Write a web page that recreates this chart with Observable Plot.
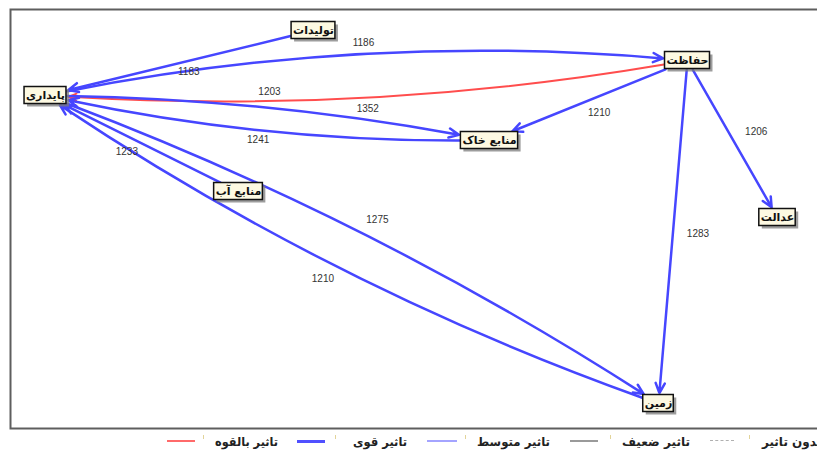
<!DOCTYPE html>
<html><head><meta charset="utf-8">
<script src="https://cdn.jsdelivr.net/npm/d3@7"></script>
<script src="https://cdn.jsdelivr.net/npm/@observablehq/plot@0.6"></script>
<style>
html,body{margin:0;padding:0;background:#fff;}
body{width:817px;height:451px;overflow:hidden;position:relative;font-family:"DejaVu Sans",sans-serif;}
#chart{position:absolute;left:0;top:0;}
#legend{position:absolute;left:0;top:431px;width:817px;height:20px;overflow:hidden;}
.lt{position:absolute;top:4px;font:bold 12px "DejaVu Sans";line-height:14px;color:#222;white-space:nowrap;direction:rtl;transform-origin:0 50%;}
.ll{position:absolute;top:9px;height:0;}
.ls{position:absolute;top:4px;width:1px;height:4px;background:#e2d49a;}
</style></head><body>
<div id="chart"></div><div id="legend"></div>
<script>
// ---------- data ----------
const nodeNames = ["پایداری", "تولیدات", "منابع آب", "حفاظت", "منابع خاک", "عدالت", "زمین"];
const nodeX = [35, 303, 228, 677, 479, 767, 648];   // layout coordinates
const nodeY = [86, 21, 182, 51, 131, 208, 394];

const edgeFrom   = ["تولیدات", "پایداری", "حفاظت", "پایداری", "منابع خاک", "حفاظت", "حفاظت", "حفاظت", "پایداری", "زمین", "منابع آب"];
const edgeTo     = ["پایداری", "حفاظت", "پایداری", "منابع خاک", "پایداری", "منابع خاک", "عدالت", "زمین", "زمین", "پایداری", "پایداری"];
const edgeWeight = [1183, 1186, 1352, 1203, 1241, 1210, 1206, 1283, 1275, 1210, 1233];
const edgeKind   = ["تاثیر قوی", "تاثیر قوی", "تاثیر بالقوه", "تاثیر قوی", "تاثیر قوی", "تاثیر قوی", "تاثیر قوی", "تاثیر قوی", "تاثیر قوی", "تاثیر قوی", "تاثیر قوی"];

const legendKinds = ["تاثیر بالقوه", "تاثیر قوی", "تاثیر متوسط", "تاثیر ضعیف", "بدون تاثیر"];

// ---------- layout / style ----------
const edgeBend  = [0, 8, 6.5, 4.7, 6, 0, 0, 0, 6, 7, 0];
const labelT    = [0.47, 0.5, 0.5, 0.51, 0.51, 0.47, 0.54, 0.5, 0.51, 0.52, 0.56];
const labelGap  = [11, 11, 11, 16, 10, 15, 24, 25, 19, 17, 14];
const kindStyle = {
  "تاثیر بالقوه": {stroke: "#ff4d4d", width: 2, css: "2px solid #ff6a6a"},
  "تاثیر قوی":    {stroke: "#4646ff", width: 2.5, css: "3px solid #5050ff"},
  "تاثیر متوسط":  {stroke: "#9a9aff", width: 1.5, css: "2px solid #a4a4ff"},
  "تاثیر ضعیف":   {stroke: "#999999", width: 1.5, css: "2px solid #9a9a9a"},
  "بدون تاثیر":   {stroke: "#bbbbbb", width: 1, css: "1px dashed #b0b0b0"}
};
const legendLineLeft = [167, 297, 427, 570, 710];
const legendLineW    = [28, 28, 30, 28, 24];
const legendSep      = [203, 335, 465, 610, 749];
const legendTextLeft = [215, 353, 477, 622, 762];
const legendTextW    = [63, 54, 73, 68, null];

// ---------- build ----------
const ctx = document.createElement("canvas").getContext("2d");
ctx.font = "bold 11px 'DejaVu Sans'";
const nodes = nodeNames.map((name, i) => {
  const w = ctx.measureText(name).width;
  return {name, x: nodeX[i], y: nodeY[i], hw: w / 2 + 1.5, hh: 8.5};
});
const byName = new Map(nodes.map(n => [n.name, n]));

function boxPoint(n, ang, gap) {
  const c = Math.cos(ang), s = Math.sin(ang);
  const tx = Math.abs(c) > 1e-9 ? n.hw / Math.abs(c) : Infinity;
  const ty = Math.abs(s) > 1e-9 ? n.hh / Math.abs(s) : Infinity;
  const t = Math.min(tx, ty) + gap;
  return [n.x + c * t, n.y + s * t];
}

const edges = edgeFrom.map((f, i) => {
  const a = byName.get(f), b = byName.get(edgeTo[i]);
  const chord = Math.atan2(b.y - a.y, b.x - a.x);
  const th = edgeBend[i] * Math.PI / 180;
  const [x1, y1] = boxPoint(a, chord - th, 1);
  const [x2, y2] = boxPoint(b, chord + th + Math.PI, 2);
  const L = Math.hypot(x2 - x1, y2 - y1);
  const ux = (x2 - x1) / L, uy = (y2 - y1) / L;
  const nx = uy, ny = -ux;
  // point on the arc at chord fraction t
  const t = labelT[i];
  let off = 0;
  if (th > 0) {
    const R = L / (2 * Math.sin(th)), s = R * (1 - Math.cos(th)), u = (t - 0.5) * L;
    off = Math.sqrt(R * R - u * u) - (R - s);
  }
  const px = x1 + t * (x2 - x1) + nx * off, py = y1 + t * (y2 - y1) + ny * off;
  return {x1, y1, x2, y2, bend: edgeBend[i], kind: edgeKind[i], value: edgeWeight[i],
          lx: px + nx * labelGap[i], ly: py + ny * labelGap[i]};
});

const arrowMarks = edges.map(e => Plot.arrow([e], {
  x1: "x1", y1: "y1", x2: "x2", y2: "y2",
  bend: e.bend, stroke: kindStyle[e.kind].stroke, strokeWidth: kindStyle[e.kind].width,
  headLength: 6.5, headAngle: 50
}));

const chart = Plot.plot({
  width: 817, height: 431,
  marginLeft: 10, marginRight: -5, marginTop: 9, marginBottom: 3,
  x: {domain: [0, 812], axis: null},
  y: {domain: [0, 419], axis: null, reverse: true},
  style: {background: "white", overflow: "visible"},
  marks: [
    Plot.frame({stroke: "#5e5e5e", strokeWidth: 2}),
    ...arrowMarks,
    Plot.text(edges, {x: "lx", y: "ly", text: d => String(d.value), fontSize: 10,
      fontFamily: "'Liberation Sans', Arial, sans-serif", fill: "#333"}),
    Plot.rect(nodes, {x1: d => d.x - d.hw, x2: d => d.x + d.hw, y1: d => d.y - d.hh, y2: d => d.y + d.hh,
      dx: 3, dy: 3, fill: "#7c7c7c", fillOpacity: 0.75}),
    Plot.rect(nodes, {x1: d => d.x - d.hw, x2: d => d.x + d.hw, y1: d => d.y - d.hh, y2: d => d.y + d.hh,
      fill: "#fdf9e2", stroke: "#111", strokeWidth: 1.5}),
    Plot.text(nodes, {x: "x", y: "y", text: "name", fontFamily: "'DejaVu Sans'", fontWeight: "bold",
      fontSize: 11, fill: "#111"})
  ]
});
document.getElementById("chart").append(chart);

// ---------- legend ----------
const lg = document.getElementById("legend");
legendKinds.forEach((k, i) => {
  const line = document.createElement("div");
  line.className = "ll";
  line.style.left = legendLineLeft[i] + "px";
  line.style.width = legendLineW[i] + "px";
  line.style.borderTop = kindStyle[k].css;
  lg.append(line);
  const sep = document.createElement("div");
  sep.className = "ls";
  sep.style.left = legendSep[i] + "px";
  lg.append(sep);
  const t = document.createElement("div");
  t.className = "lt";
  t.textContent = k;
  t.style.left = legendTextLeft[i] + "px";
  lg.append(t);
  const w = t.getBoundingClientRect().width;
  if (w > 0 && legendTextW[i]) t.style.transform = `scaleX(${legendTextW[i] / w})`;
});
</script>
</body></html>
